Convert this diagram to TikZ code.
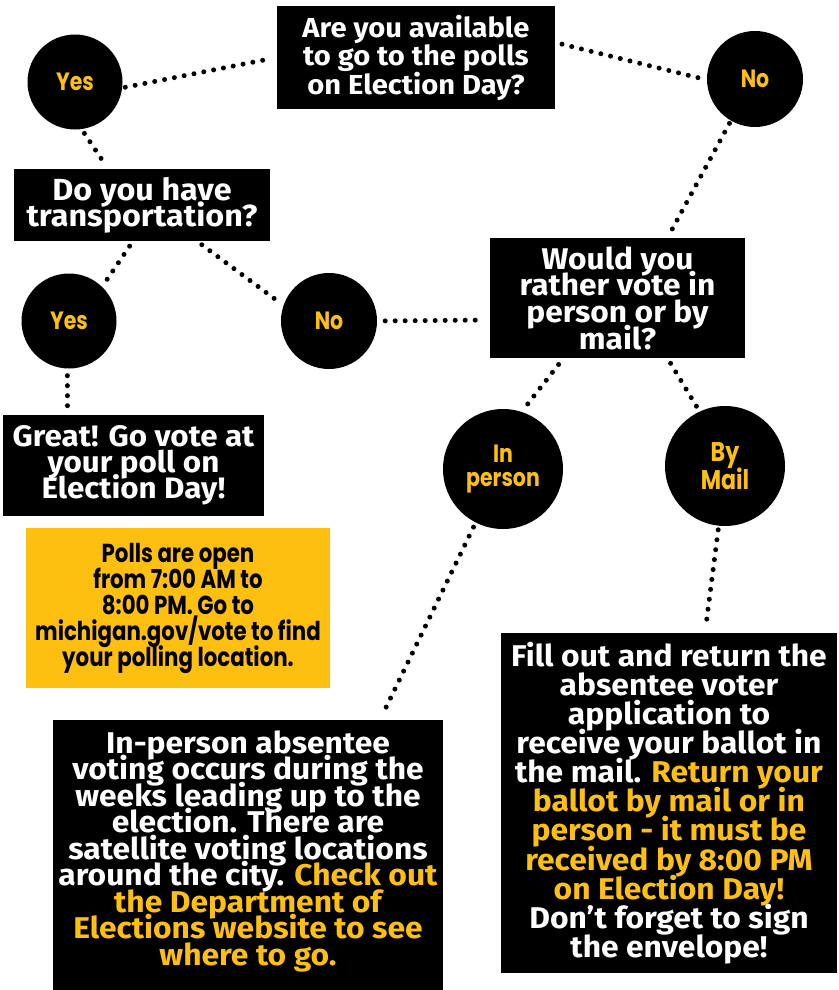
\documentclass[tikz,border=0pt]{standalone}
\usepackage{fontspec}
\setmainfont{Fira Sans}
\newfontfamily\din{Fira Sans}[FakeStretch=1.06]
\newfontfamily\hand{Poppins}[FakeStretch=0.82]
\newcommand\tightlines{\lineskiplimit=-100pt\lineskip=0pt\relax}
\definecolor{ygold}{RGB}{253,192,16}
\tikzset{
  box/.style={fill=black, text=white, inner sep=0pt, align=center},
  ybox/.style={fill=ygold, text=black, inner sep=0pt, align=center},
  circ/.style={circle, fill=black, text=ygold, inner sep=0pt, align=center},
  dotline/.style={line width=5pt, line cap=round, dash pattern=on 0pt off 10pt, draw=black}
}
\begin{document}
\begin{tikzpicture}[x=1pt,y=-1pt]
\useasboundingbox (0,0) rectangle (838,990);
% question boxes
\node[box, minimum width=278pt, minimum height=103pt, font=\din\bfseries\fontsize{27.5}{28.5}\selectfont\tightlines] (q1) at (416,57.5)
  {Are you available\\to go to the polls\\on Election Day?};
\node[box, minimum width=256pt, minimum height=72pt, font=\din\bfseries\fontsize{30.5}{26}\selectfont\tightlines] (q2) at (142,205)
  {Do you have\\transportation?};
\node[box, minimum width=255pt, minimum height=120pt, font=\din\bfseries\fontsize{29.9}{26.7}\selectfont\tightlines] (q3) at (617.5,298)
  {Would you\\rather vote in\\person or by\\mail?};
\node[box, minimum width=261pt, minimum height=101pt, font=\din\bfseries\fontsize{29.6}{26}\selectfont\tightlines] (great) at (133.5,465.5)
  {Great! Go vote at\\your poll on\\Election Day!};
\node[ybox, minimum width=304pt, minimum height=160pt, font=\hand\bfseries\fontsize{26}{26}\selectfont\tightlines] (polls) at (178,608)
  {Polls are open\\from 7:00 AM to\\8:00 PM. Go to\\michigan.gov/vote to find\\your polling location.};
\node[box, minimum width=390pt, minimum height=270pt] (ibox) at (248,855) {};
\node[box, font=\din\bfseries\fontsize{30}{26.5}\selectfont\tightlines] (itext) at (248,851)
  {In-person absentee\\voting occurs during the\\weeks leading up to the\\election. There are\\satellite voting locations\\around the city. \textcolor{ygold}{Check out}\\\textcolor{ygold}{the Department of}\\\textcolor{ygold}{Elections website to see}\\\textcolor{ygold}{where to go.}};
\node[box, minimum width=336pt, minimum height=340pt, font=\din\bfseries\fontsize{30}{29.1}\selectfont\tightlines] (mbox) at (669,803)
  {Fill out and return the\\absentee voter\\application to\\receive your ballot in\\the mail. \textcolor{ygold}{Return your}\\\textcolor{ygold}{ballot by mail or in}\\\textcolor{ygold}{person - it must be}\\\textcolor{ygold}{received by 8:00 PM}\\\textcolor{ygold}{on Election Day!}\\Don’t forget to sign\\the envelope!};
% circles
\node[circ, minimum size=95pt, font=\hand\bfseries\fontsize{25}{22}\selectfont] (yes1) at (75,82) {Yes};
\node[circ, minimum size=96pt, font=\hand\bfseries\fontsize{25}{22}\selectfont] (no1) at (755,79) {No};
\node[circ, minimum size=95pt, font=\hand\bfseries\fontsize{25}{22}\selectfont] (yes2) at (69,321) {Yes};
\node[circ, minimum size=96pt, font=\hand\bfseries\fontsize{25}{22}\selectfont] (no2) at (329,321) {No};
\node[circ, minimum size=120pt, font=\hand\bfseries\fontsize{25}{24}\selectfont\tightlines] (inp) at (503,469) {In\\person};
\node[circ, minimum size=120pt, font=\hand\bfseries\fontsize{27}{28}\selectfont\tightlines] (bym) at (725,466) {By\\Mail};
% connectors
\draw[dotline, shorten <=3pt, shorten >=9pt] (yes1.-7) -- (q1.west);
\draw[dotline, shorten <=7pt, shorten >=7pt] ([yshift=15pt]q1.east) -- (no1.181);
\draw[dotline, shorten <=5pt, shorten >=9pt] (yes1.-82) -- ([xshift=-34pt]q2.north);
\draw[dotline, shorten <=6pt, shorten >=7pt] ([xshift=-9pt]q2.south) -- (yes2.46);
\draw[dotline, shorten <=6pt, shorten >=10pt] ([xshift=55pt]q2.south) -- (no2.161);
\draw[dotline, shorten <=8pt, shorten >=5pt] (no2.east) -- ([yshift=-22pt]q3.west);
\draw[dotline, shorten <=3pt, shorten >=6pt] (no1.-120) -- ([xshift=50pt]q3.north);
\draw[dotline, shorten <=7pt, shorten >=9pt] (yes2.-92) -- ([xshift=-66pt]great.north);
\draw[dotline, shorten <=8pt, shorten >=7pt] ([xshift=-54pt]q3.south) -- (inp.72);
\draw[dotline, shorten <=6pt, shorten >=4pt] ([xshift=50pt]q3.south) -- (bym.115);
\draw[dotline, shorten <=5pt, shorten >=10pt] (inp.-117) -- ([xshift=132pt]ibox.north);
\draw[dotline, shorten <=4pt, shorten >=8pt] (bym.-96) -- ([xshift=36pt]mbox.north);
\end{tikzpicture}
\end{document}
